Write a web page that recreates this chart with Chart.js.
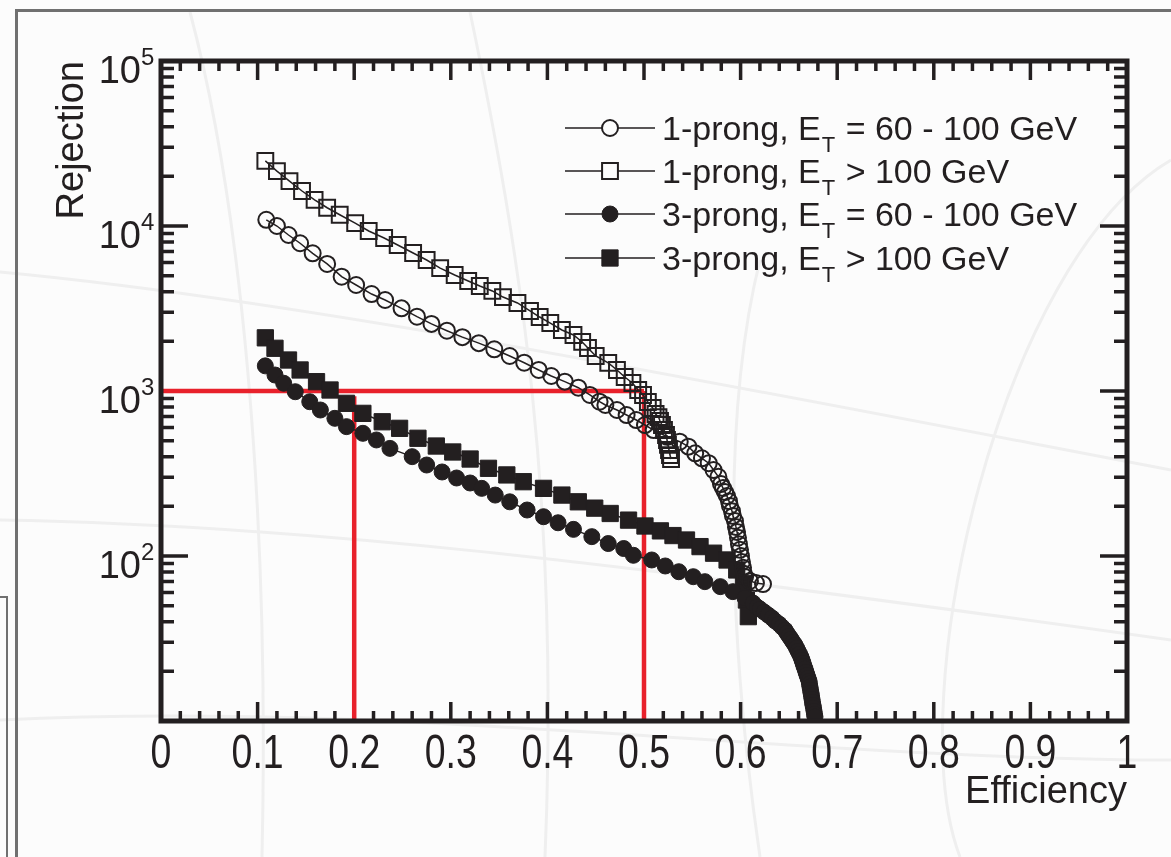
<!DOCTYPE html>
<html>
<head>
<meta charset="utf-8">
<script src="https://cdn.jsdelivr.net/npm/chart.js@4.4.1/dist/chart.umd.min.js"></script>
<style>
html, body { margin: 0; padding: 0; background: #fcfcfc; }
#wrap { position: relative; width: 1171px; height: 857px; overflow: hidden; }
.frame-top { position: absolute; left: 15px; top: 9px; width: 1170px; height: 3px; background: #707070; }
.frame-left { position: absolute; left: 15px; top: 9px; width: 3px; height: 860px; background: #707070; }
.box { position: absolute; left: -4px; top: 596px; width: 8px; height: 280px; border: 2px solid #707070; }
svg, canvas { position: absolute; left: 0; top: 0; }
</style>
</head>
<body>
<div id="wrap">
  <!-- faint background swirls -->
  <svg width="1171" height="857">
    <g fill="none" stroke="#efefef" stroke-width="3">
      <path d="M0 272 C 300 300, 700 380, 1171 470"/>
      <path d="M0 520 C 300 525, 600 560, 1171 640"/>
      <path d="M190 12 C 240 200, 270 500, 262 857"/>
      <path d="M470 12 C 520 250, 560 500, 545 857"/>
      <path d="M760 260 C 720 420, 730 650, 760 857"/>
      <path d="M1171 160 C 1000 260, 900 700, 960 857"/>
      <path d="M0 720 C 400 700, 800 760, 1171 760"/>
    </g>
  </svg>
  <div class="frame-top"></div>
  <div class="frame-left"></div>
  <div class="box"></div>
  <canvas id="chart" width="1171" height="857"></canvas>
</div>
<script>
// 1-prong, ET = 60 - 100 GeV (open circles)
const oneProngLowEff = [0.109, 0.120, 0.132, 0.144, 0.157, 0.172, 0.187, 0.202, 0.218, 0.232, 0.249, 0.265, 0.280, 0.296, 0.312, 0.329, 0.345, 0.361, 0.376, 0.391, 0.404, 0.418, 0.432, 0.444, 0.454, 0.460, 0.472, 0.482, 0.492, 0.501, 0.510, 0.524, 0.537, 0.546, 0.553, 0.560, 0.567, 0.572, 0.577,
  0.5797, 0.5818, 0.5839, 0.5859, 0.5880, 0.5890, 0.5911, 0.5921, 0.5942, 0.5952, 0.5963, 0.5973, 0.5983, 0.5994, 0.6004, 0.6014, 0.6025, 0.6035, 0.6046, 0.6097, 0.6159, 0.6232];
const oneProngLowRej = [10900, 10000, 8820, 7860, 6830, 5890, 4930, 4390, 3870, 3560, 3170, 2820, 2550, 2320, 2120, 1950, 1790, 1630, 1484, 1341, 1233, 1139, 1047, 946, 861, 823, 767, 715, 667, 622, 580, 528, 493, 460, 419, 391, 365, 332, 302,
  273, 258, 244, 231, 215, 201, 187, 175, 163, 150, 140, 129, 118, 109, 100, 92, 85, 78, 74.6, 70.6, 68.6, 67.6];

// 1-prong, ET > 100 GeV (open squares)
const oneProngHighEff = [0.108, 0.120, 0.133, 0.146, 0.159, 0.172, 0.185, 0.201, 0.215, 0.231, 0.245, 0.261, 0.275, 0.289, 0.304, 0.318, 0.330, 0.343, 0.354, 0.369, 0.382, 0.392, 0.403, 0.415, 0.427, 0.436, 0.442, 0.450, 0.463, 0.472, 0.480, 0.488, 0.494, 0.499, 0.504, 0.509, 0.512, 0.515, 0.5166, 0.5186, 0.5207, 0.5228, 0.5238, 0.5248, 0.5259, 0.5269, 0.5280];
const oneProngHighRej = [24800, 21500, 18700, 16300, 14400, 12900, 11700, 10400, 9330, 8460, 7670, 6860, 6220, 5560, 5050, 4640, 4330, 4040, 3710, 3415, 3055, 2808, 2582, 2344, 2185, 1983, 1823, 1630, 1479, 1341, 1216, 1118, 1014, 946, 858, 789, 725, 695, 658, 622, 580, 541, 505, 471, 439, 409, 387];

// 3-prong, ET = 60 - 100 GeV (filled circles)
const threeProngLowEff = [0.108, 0.118, 0.127, 0.139, 0.154, 0.165, 0.180, 0.192, 0.209, 0.223, 0.237, 0.260, 0.275, 0.291, 0.306, 0.320, 0.332, 0.346, 0.361, 0.379, 0.396, 0.411, 0.427, 0.446, 0.463, 0.479, 0.489, 0.508, 0.522, 0.536, 0.551, 0.563, 0.579, 0.592, 0.6046, 0.6128, 0.6170,
  0.6201, 0.6242, 0.6284, 0.6325, 0.6356, 0.6398, 0.6429, 0.6460, 0.6480, 0.6501, 0.6522, 0.6542, 0.6563, 0.6579, 0.6594, 0.6610, 0.6625, 0.6636, 0.6646, 0.6656, 0.6667, 0.6677, 0.6687, 0.6698, 0.6708, 0.6713, 0.6718, 0.6724, 0.6729, 0.6734, 0.6739, 0.6744, 0.6749, 0.6755, 0.6760, 0.6765, 0.6770];
const threeProngLowRej = [1420, 1250, 1114, 990, 861, 767, 683, 608, 554, 505, 449, 400, 356, 323, 297, 277, 257, 234, 213, 190, 173, 159, 145, 131, 119, 111, 101, 94.6, 87, 80.3, 74.9, 69.9, 65.2, 60.8, 55.7, 51.9, 49.1,
  47.7, 45.8, 43.9, 42.1, 40.4, 38.7, 37.1, 35.6, 34.1, 32.7, 31.4, 30.1, 28.9, 27.7, 26.6, 25.5, 24.4, 23.4, 22.5, 21.5, 20.7, 19.8, 19.0, 18.2, 17.5, 16.8, 16.1, 15.4, 14.8, 14.2, 13.6, 13.0, 12.5, 12.0, 11.5, 11.0, 10.6];

// 3-prong, ET > 100 GeV (filled squares)
const threeProngHighEff = [0.108, 0.118, 0.132, 0.144, 0.161, 0.175, 0.192, 0.209, 0.229, 0.247, 0.266, 0.285, 0.302, 0.320, 0.339, 0.358, 0.375, 0.396, 0.415, 0.432, 0.449, 0.465, 0.484, 0.501, 0.517, 0.530, 0.544, 0.558, 0.572, 0.586, 0.596, 0.603, 0.606, 0.608];
const threeProngHighRej = [2100, 1815, 1541, 1341, 1139, 1014, 842, 732, 651, 594, 517, 464, 427, 387, 340, 310, 282, 257, 234, 213, 195, 181, 165, 152, 142, 133, 125, 114, 104, 94.6, 82.3, 68.3, 54.1, 42.9];

// red guide lines
const cutEff = [0.2, 0.5];
const cutRejTop = [930, 1000];
const targetRej = 1000;

// axes
const xTicks = [0, 0.1, 0.2, 0.3, 0.4, 0.5, 0.6, 0.7, 0.8, 0.9, 1];
const yDecades = [100, 1000, 10000, 100000];
const yExponents = ["2", "3", "4", "5"];

const legendRows = [
  { pre: "1-prong, E", sub: "T", post: " = 60 - 100 GeV" },
  { pre: "1-prong, E", sub: "T", post: " > 100 GeV" },
  { pre: "3-prong, E", sub: "T", post: " = 60 - 100 GeV" },
  { pre: "3-prong, E", sub: "T", post: " > 100 GeV" }
];

const ink = "#231f20";
const red = "#e8212b";
const zip = (xs, ys) => xs.map((v, i) => ({ x: v, y: ys[i] }));

const markers = [
  { style: "circle", filled: false, r: 8 },
  { style: "rect", filled: false, r: 11.2 },
  { style: "circle", filled: true, r: 8 },
  { style: "rect", filled: true, r: 11.5 }
];

function series(xs, ys, m) {
  return {
    data: zip(xs, ys),
    borderColor: ink,
    borderWidth: 1.5,
    pointStyle: m.style,
    pointRadius: m.r,
    pointBorderWidth: m.filled ? 1 : 2,
    pointBorderColor: ink,
    pointBackgroundColor: m.filled ? ink : "rgba(0,0,0,0)",
    showLine: true,
    tension: 0
  };
}

function redLine(points) {
  return { data: points, borderColor: red, borderWidth: 4.5, pointRadius: 0, showLine: true, tension: 0 };
}

const datasets = [
  series(oneProngLowEff, oneProngLowRej, markers[0]),
  series(oneProngHighEff, oneProngHighRej, markers[1]),
  series(threeProngLowEff, threeProngLowRej, markers[2]),
  series(threeProngHighEff, threeProngHighRej, markers[3]),
  redLine([{ x: 0, y: targetRej }, { x: cutEff[1], y: targetRej }]),
  redLine([{ x: cutEff[0], y: 10 }, { x: cutEff[0], y: cutRejTop[0] }]),
  redLine([{ x: cutEff[1], y: 10 }, { x: cutEff[1], y: cutRejTop[1] }])
];

function marker(ctx, m, x, y) {
  ctx.beginPath();
  if (m.style === "circle") ctx.arc(x, y, m.r, 0, Math.PI * 2);
  else { const s = m.r * Math.SQRT1_2; ctx.rect(x - s, y - s, 2 * s, 2 * s); }
  if (m.filled) ctx.fill(); else { ctx.fillStyle = "#fcfcfc"; ctx.fill(); ctx.fillStyle = ink; }
  ctx.lineWidth = m.filled ? 1 : 2;
  ctx.stroke();
}

// ROOT-like frame: inward ticks under the data, frame/labels/legend on top
const rootFrame = {
  id: "rootFrame",
  beforeDatasetsDraw(chart) {
    const { ctx, chartArea: a, scales: { x, y } } = chart;
    ctx.save();
    ctx.strokeStyle = ink;
    ctx.lineWidth = 3.5;
    ctx.beginPath();
    for (let d = 10; d < 100000; d *= 10) {
      for (let m = 1; m <= 9; m++) {
        if (d === 10 && m === 1) continue;
        const py = y.getPixelForValue(m * d);
        const len = m === 1 ? 27 : 13;
        ctx.moveTo(a.left, py); ctx.lineTo(a.left + len, py);
        ctx.moveTo(a.right, py); ctx.lineTo(a.right - len, py);
      }
    }
    for (let i = 1; i < 50; i++) {
      const px = x.getPixelForValue(i / 50);
      const len = i % 5 === 0 ? 19 : 10;
      ctx.moveTo(px, a.bottom); ctx.lineTo(px, a.bottom - len);
      ctx.moveTo(px, a.top); ctx.lineTo(px, a.top + len);
    }
    ctx.stroke();
    ctx.restore();
  },
  afterDatasetsDraw(chart) {
    const { ctx, chartArea: a, scales: { x, y } } = chart;
    ctx.save();
    ctx.strokeStyle = ink;
    ctx.fillStyle = ink;
    ctx.lineWidth = 5;
    ctx.strokeRect(a.left, a.top, a.right - a.left, a.bottom - a.top);

    // x tick labels (narrow face)
    ctx.font = "48px 'Liberation Sans', Arial, sans-serif";
    ctx.textAlign = "center";
    ctx.textBaseline = "alphabetic";
    xTicks.forEach(v => {
      const px = x.getPixelForValue(v);
      ctx.save();
      ctx.translate(px, a.bottom + 47);
      ctx.scale(0.78, 1);
      ctx.fillText(v === 0 || v === 1 ? String(v) : v.toFixed(1), 0, 0);
      ctx.restore();
    });

    // y tick labels 10^n
    yDecades.forEach((v, i) => {
      const py = y.getPixelForValue(v);
      ctx.font = "38px 'Liberation Sans', Arial, sans-serif";
      ctx.textAlign = "right";
      ctx.fillText("10", 141, py + 22);
      ctx.font = "24px 'Liberation Sans', Arial, sans-serif";
      ctx.textAlign = "left";
      ctx.fillText(yExponents[i], 141, py + 4);
    });

    // axis titles
    ctx.font = "38px 'Liberation Sans', Arial, sans-serif";
    ctx.textAlign = "right";
    ctx.fillText("Efficiency", a.right, a.bottom + 82);
    ctx.save();
    ctx.translate(83, a.top);
    ctx.rotate(-Math.PI / 2);
    ctx.fillText("Rejection", 0, 0);
    ctx.restore();

    // legend
    const rowY = [128, 171, 214, 258];
    legendRows.forEach((row, i) => {
      const ly = rowY[i];
      ctx.lineWidth = 1.5;
      ctx.beginPath();
      ctx.moveTo(565, ly); ctx.lineTo(655, ly);
      ctx.stroke();
      marker(ctx, markers[i], 610, ly);
      ctx.textAlign = "left";
      ctx.font = "34px 'Liberation Sans', Arial, sans-serif";
      let tx = 662;
      ctx.fillText(row.pre, tx, ly + 12);
      tx += ctx.measureText(row.pre).width;
      ctx.font = "22px 'Liberation Sans', Arial, sans-serif";
      ctx.fillText(row.sub, tx + 1, ly + 24);
      tx += ctx.measureText(row.sub).width + 2;
      ctx.font = "34px 'Liberation Sans', Arial, sans-serif";
      ctx.fillText(row.post, tx, ly + 12);
    });
    ctx.restore();
  }
};

new Chart(document.getElementById("chart").getContext("2d"), {
  type: "line",
  data: { datasets },
  options: {
    responsive: false,
    animation: false,
    devicePixelRatio: 1,
    layout: { padding: { left: 161, right: 44, top: 61, bottom: 136 } },
    plugins: { legend: { display: false }, tooltip: { enabled: false } },
    scales: {
      x: { type: "linear", min: 0, max: 1, display: false },
      y: { type: "logarithmic", min: 10, max: 100000, display: false }
    }
  },
  plugins: [rootFrame]
});
</script>
</body>
</html>
